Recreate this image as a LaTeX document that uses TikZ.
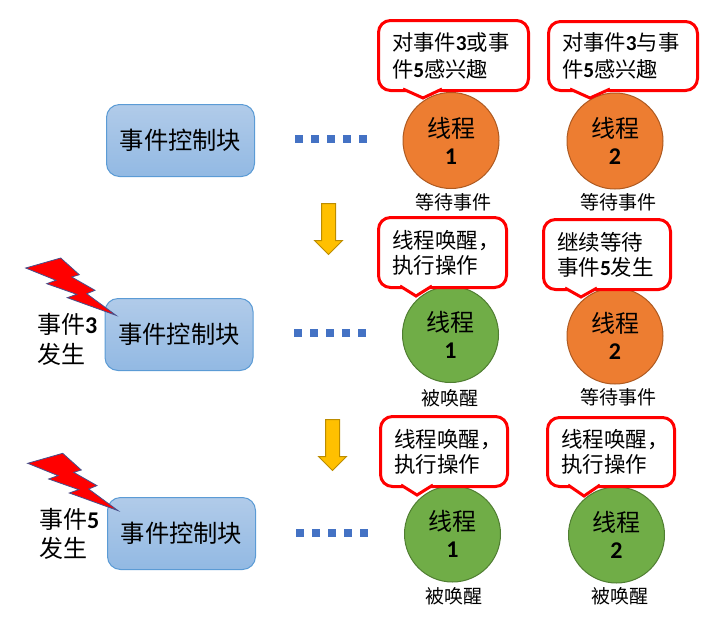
\documentclass[tikz,border=0pt]{standalone}
\usepackage{fontspec}
\setmainfont{Noto Sans CJK SC}
\newfontfamily\digitfont{Carlito}
\newcommand{\dg}[1]{{\digitfont\bfseries #1}}
\definecolor{threadorange}{RGB}{237,125,49}
\definecolor{threadorangeline}{RGB}{174,90,33}
\definecolor{threadgreen}{RGB}{112,173,71}
\definecolor{threadgreenline}{RGB}{80,126,50}
\definecolor{blocktop}{RGB}{177,203,233}
\definecolor{blockbottom}{RGB}{146,185,227}
\definecolor{blockline}{RGB}{91,155,213}
\definecolor{dotblue}{RGB}{68,114,196}
\definecolor{arrowyellow}{RGB}{255,192,0}
\definecolor{arrowline}{RGB}{188,140,0}
\definecolor{flashline}{RGB}{70,80,140}
\usetikzlibrary{arrows.meta,positioning,shapes.arrows,calc}
\tikzset{
  ctrlblock/.style={draw=blockline,top color=blocktop,bottom color=blockbottom,rounded corners=13pt,
    minimum width=148pt,minimum height=72pt,outer sep=0pt,line width=1pt,font=\fontsize{24.3}{28}\selectfont},
  threadbase/.style={circle,minimum size=96pt,inner sep=0pt,outer sep=0pt,line width=1pt,align=center,
    font=\fontsize{24}{28}\selectfont},
  waiting/.style={threadbase,draw=threadorangeline,fill=threadorange},
  awake/.style={threadbase,draw=threadgreenline,fill=threadgreen},
  bubble/.style={draw=red,fill=white,line width=3pt,rounded corners=12pt,outer sep=0pt,minimum height=70pt,
    inner xsep=13.5pt,align=left,font=\fontsize{21.3}{27}\selectfont},
  tightbubble/.style={bubble,font=\fontsize{21.5}{25}\selectfont},
  tipline/.style={draw=red,fill=white,line width=3pt},
  caption/.style={inner sep=0pt,font=\fontsize{19}{22}\selectfont},
  eventtext/.style={inner sep=0pt,align=left,anchor=west,font=\fontsize{24}{29.5}\selectfont},
  dotline/.style={dotblue,line width=8pt,dash pattern=on 8pt off 8pt},
  downarrow/.style={single arrow,draw=arrowline,fill=arrowyellow,rotate=-90,line width=1pt,minimum width=27pt,
    minimum height=51pt,single arrow head extend=7pt,single arrow tip angle=90,inner sep=6.5pt,outer sep=0pt},
}
\begin{document}
\begin{tikzpicture}[x=1pt,y=-1pt]
  \useasboundingbox (0,0) rectangle (715,633);
  % control blocks
  \node[ctrlblock] (block1) at (180.5,140.5) {事件控制块};
  \node[ctrlblock] (block2) at (179,334.5) {事件控制块};
  \node[ctrlblock] (block3) at (181.5,533.5) {事件控制块};
  % threads
  \node[waiting] (t11) at (451,140.5) {线程\\[-1pt]\dg{1}};
  \node[waiting] (t12) at (615,141) {线程\\[-1pt]\dg{2}};
  \node[awake] (t21) at (450.5,334.5) {线程\\[-1pt]\dg{1}};
  \node[waiting] (t22) at (615,336) {线程\\[-1pt]\dg{2}};
  \node[awake] (t31) at (452.5,534) {线程\\[-1pt]\dg{1}};
  \node[awake] (t32) at (616.5,535) {线程\\[-1pt]\dg{2}};
  % captions
  \node[caption] (c11) at (453,202) {等待事件};
  \node[caption] (c12) at (618,202) {等待事件};
  \node[caption] (c21) at (450,398) {被唤醒};
  \node[caption] (c22) at (618,397) {等待事件};
  \node[caption] (c31) at (454,596) {被唤醒};
  \node[caption] (c32) at (620,596) {被唤醒};
  % speech bubbles
  \node[bubble,text width=123pt] (b11) at (453.5,55.5) {对事件\dg{3}或事\\件\dg{5}感兴趣};
  \node[bubble,text width=122pt,minimum height=69pt] (b12) at (623,56) {对事件\dg{3}与事\\件\dg{5}感兴趣};
  \node[tightbubble,text width=101pt] (b21) at (442.5,252.5) {线程唤醒，\\执行操作};
  \node[tightbubble,text width=100pt] (b22) at (607,254.5) {继续等待\\事件\dg{5}发生};
  \node[tightbubble,text width=100pt] (b31) at (444,451.5) {线程唤醒，\\执行操作};
  \node[tightbubble,text width=100pt,minimum height=69pt] (b32) at (611,452) {线程唤醒，\\执行操作};
  \foreach \b/\l/\r/\tx/\ty in {b11/403/442/423/98,b12/570/610/590/98,b21/400/432/416/296,
    b22/565/597/581/297,b31/401/433/417/495,b32/568/600/584/496} {
    \draw[tipline] ($(\l,0 |- \b.south)+(0,-1.5)$) -- (\tx,\ty) -- ($(\r,0 |- \b.south)+(0,-1.5)$);
  }
  % dotted links
  \coordinate (d1a) at (295,139);
  \coordinate (d1b) at (367,139);
  \coordinate (d2a) at (294,333);
  \coordinate (d2b) at (366,333);
  \coordinate (d3a) at (296,533);
  \coordinate (d3b) at (368,533);
  \foreach \i in {1,2,3} {\draw[dotline] (d\i a) -- (d\i b);}
  % yellow arrows
  \node[downarrow] (arrow1) at (328.5,225.5) {};
  \node[downarrow] (arrow2) at (332.5,441.5) {};
  % lightning
  \foreach \sx/\sy in {0/0,2/195.3} {
    \draw[flashline,fill=red,line width=0.8pt,shift={(\sx,\sy)}] (25.7,268) -- (60.7,258) -- (79.3,274.7)
      -- (71.7,277) -- (95,290.3) -- (86.7,293.7) -- (116,315.3) -- (67.3,297.7) -- (76.7,294.3)
      -- (46.7,283.7) -- (56,280.3) -- cycle;
  }
  % events
  \node[eventtext] (event3) at (37,339.5) {事件\dg{3}\\发生};
  \node[eventtext] (event5) at (39,534) {事件\dg{5}\\发生};
\end{tikzpicture}
\end{document}
